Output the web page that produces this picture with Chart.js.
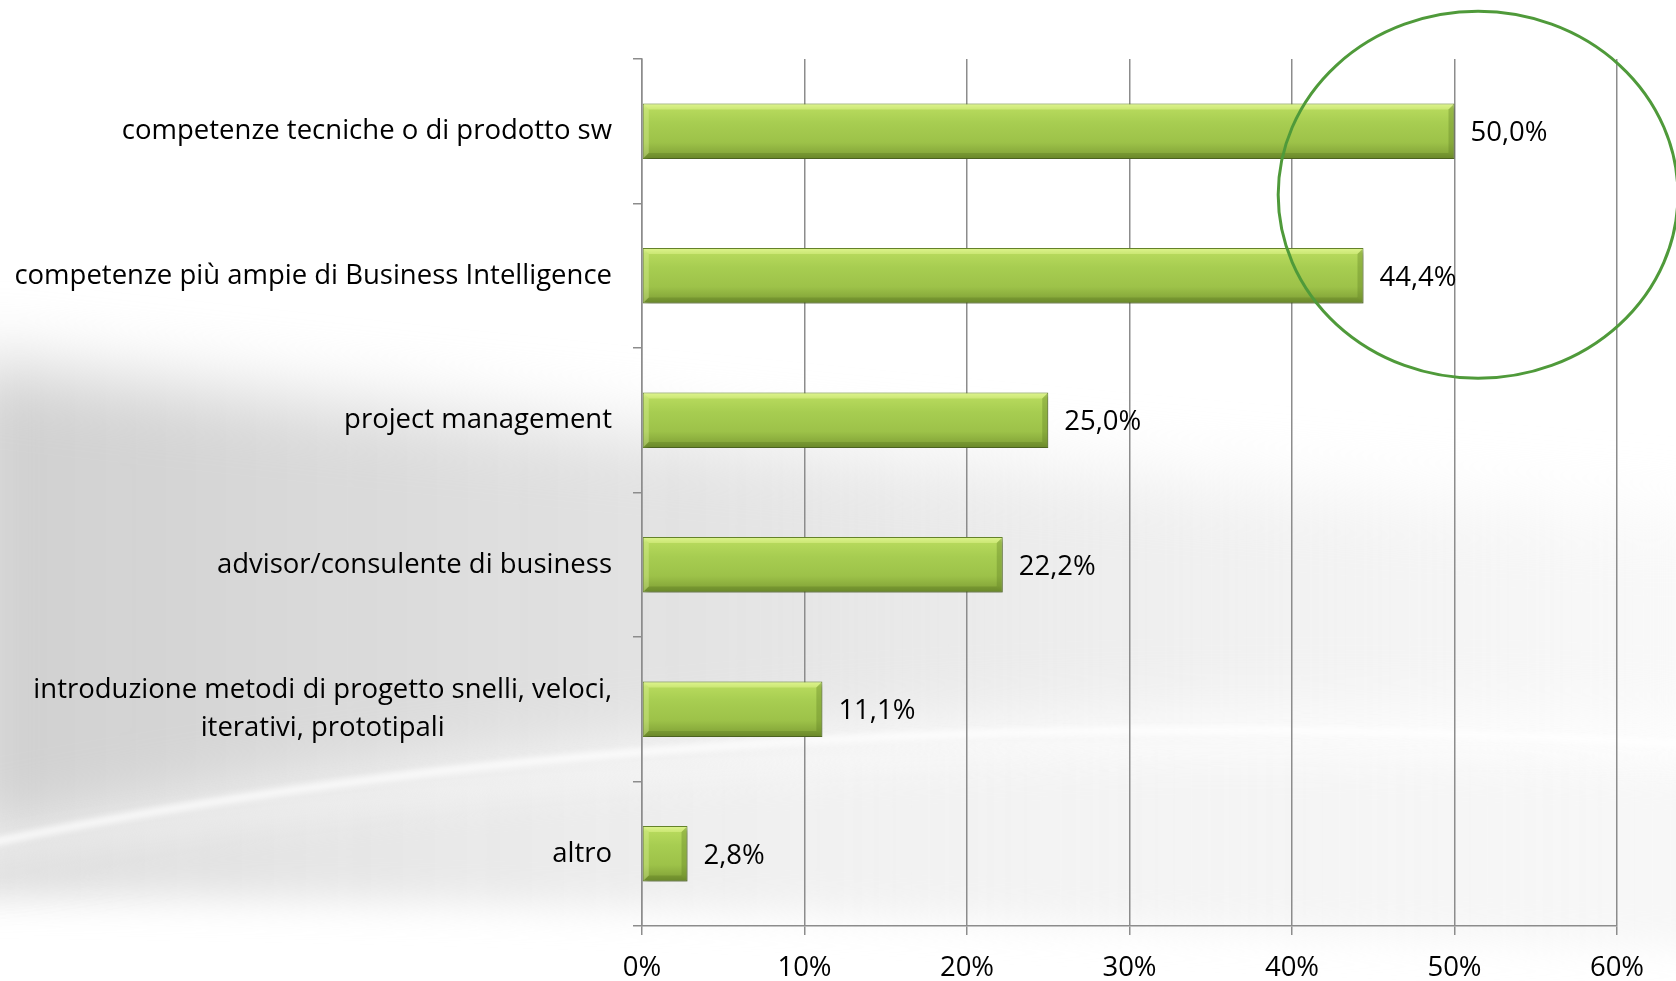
<!DOCTYPE html>
<html>
<head>
<meta charset="utf-8">
<script src="https://cdn.jsdelivr.net/npm/chart.js@4.4.1/dist/chart.umd.min.js"></script>
<style>
    html, body { margin: 0; padding: 0; background: #fff; }
    #wrap { width: 1676px; height: 981px; }
</style>
</head>
<body>
<div id="wrap"><canvas id="myChart" width="1676" height="981"></canvas></div>
<script>
// data
const categories = [
    'competenze tecniche o di prodotto sw',
    'competenze più ampie di Business Intelligence',
    'project management',
    'advisor/consulente di business',
    ['introduzione metodi di progetto snelli, veloci,', 'iterativi, prototipali'],
    'altro'
];
const values = [50.0, 44.4, 25.0, 22.2, 11.1, 2.8];
const xTicks = [0, 10, 20, 30, 40, 50, 60];

// highlighted area (ellipse), in data units: x in %, y in category index
const highlightCenter = [51.45, 0.44];
const highlightRadius = [12.3, 1.27];

const FONT = '"Open Sans", sans-serif';
const FONT_SIZE = 27.5;

function fmt(v) {
    return v.toFixed(1).replace('.', ',') + '%';
}

// soft grey swoosh behind the chart
const backgroundPlugin = {
    id: 'bgSwoosh',
    beforeDraw(chart) {
        const ctx = chart.ctx;
        const w = chart.width, h = chart.height;
        ctx.save();
        ctx.fillStyle = '#ffffff';
        ctx.fillRect(0, 0, w, h);

        ctx.filter = 'blur(35px)';
        let g = ctx.createLinearGradient(0, 0, w, 0);
        g.addColorStop(0, 'rgba(208,208,208,1)');
        g.addColorStop(0.45, 'rgba(226,226,226,0.9)');
        g.addColorStop(1, 'rgba(242,242,242,0.5)');
        ctx.fillStyle = g;
        ctx.beginPath();
        ctx.moveTo(-40, 360);
        ctx.bezierCurveTo(500, 420, 1100, 480, w + 40, 520);
        ctx.lineTo(w + 40, 730);
        ctx.bezierCurveTo(1200, 700, 600, 730, -40, 850);
        ctx.closePath();
        ctx.fill();

        // lower lighter band
        g = ctx.createLinearGradient(0, 0, w, 0);
        g.addColorStop(0, 'rgba(218,218,218,0.9)');
        g.addColorStop(0.5, 'rgba(238,238,238,0.8)');
        g.addColorStop(1, 'rgba(242,242,242,0.6)');
        ctx.filter = 'blur(18px)';
        ctx.fillStyle = g;
        ctx.beginPath();
        ctx.moveTo(-40, 860);
        ctx.bezierCurveTo(600, 750, 1200, 740, w + 40, 770);
        ctx.lineTo(w + 40, 950);
        ctx.bezierCurveTo(1200, 930, 600, 900, -40, 895);
        ctx.closePath();
        ctx.fill();

        // white streak
        ctx.filter = 'blur(3px)';
        ctx.strokeStyle = 'rgba(255,255,255,0.85)';
        ctx.lineWidth = 7;
        ctx.beginPath();
        ctx.moveTo(-20, 845);
        ctx.bezierCurveTo(500, 735, 1100, 710, w + 20, 745);
        ctx.stroke();
        ctx.restore();
    }
};

// drop shadow under the bars
const shadowPlugin = {
    id: 'barShadow',
    beforeDatasetDraw(chart) {
        const ctx = chart.ctx;
        ctx.save();
        ctx.shadowColor = 'rgba(0,0,0,0.35)';
        ctx.shadowBlur = 5;
        ctx.shadowOffsetX = 2;
        ctx.shadowOffsetY = 3;
    },
    afterDatasetDraw(chart) {
        chart.ctx.restore();
    }
};

function quad(ctx, pts, color) {
    ctx.fillStyle = color;
    ctx.beginPath();
    ctx.moveTo(pts[0][0], pts[0][1]);
    for (let k = 1; k < pts.length; k++) ctx.lineTo(pts[k][0], pts[k][1]);
    ctx.closePath();
    ctx.fill();
}

// bevel edges, value labels, category labels, ellipse
const decorPlugin = {
    id: 'decor',
    afterDatasetsDraw(chart) {
        const ctx = chart.ctx;
        const meta = chart.getDatasetMeta(0);
        ctx.save();
        meta.data.forEach((bar, i) => {
            const t = bar.y - bar.height / 2 + 1;
            const bt = bar.y + bar.height / 2 - 1;
            const l = bar.base + 1;
            const r = bar.x - 1;
            const b = 5;
            quad(ctx, [[l, t], [l + b, t + b], [l + b, bt - b], [l, bt]], 'rgba(225,245,160,0.35)');
            quad(ctx, [[l, t], [r, t], [r - b, t + b], [l + b, t + b]], 'rgba(232,250,150,0.45)');
            quad(ctx, [[r, t], [r, bt], [r - b, bt - b], [r - b, t + b]], 'rgba(95,125,35,0.35)');
            quad(ctx, [[l, bt], [r, bt], [r - b, bt - b], [l + b, bt - b]], 'rgba(85,115,30,0.3)');

            // value label
            ctx.fillStyle = '#000';
            ctx.font = FONT_SIZE + 'px ' + FONT;
            ctx.textAlign = 'left';
            ctx.textBaseline = 'middle';
            ctx.fillText(fmt(values[i]), bar.x + 16, bar.y + 2);
        });

        // category labels: block right aligned, lines centered in the block
        const yScale = chart.scales.y;
        const rightEdge = yScale.right - 30;
        const lineH = 38.5;
        ctx.font = FONT_SIZE + 'px ' + FONT;
        ctx.fillStyle = '#000';
        ctx.textBaseline = 'middle';
        ctx.textAlign = 'center';
        categories.forEach((cat, i) => {
            const lines = Array.isArray(cat) ? cat : [cat];
            const maxW = Math.max(...lines.map(s => ctx.measureText(s).width));
            const cy = yScale.getPixelForValue(i);
            const startY = cy - (lines.length - 1) * lineH / 2;
            lines.forEach((s, k) => {
                ctx.fillText(s, rightEdge - maxW / 2, startY + k * lineH);
            });
        });
        ctx.restore();
    },
    afterDraw(chart) {
        const ctx = chart.ctx;
        const xs = chart.scales.x, ys = chart.scales.y;
        const cx = xs.getPixelForValue(highlightCenter[0]);
        const cy = ys.getPixelForValue(highlightCenter[1]);
        const rx = xs.getPixelForValue(highlightCenter[0] + highlightRadius[0]) - cx;
        const ry = ys.getPixelForValue(highlightCenter[1] + highlightRadius[1]) - cy;
        ctx.save();
        ctx.strokeStyle = '#4f9a3a';
        ctx.lineWidth = 3;
        ctx.beginPath();
        ctx.ellipse(cx, cy, rx, ry, 0, 0, Math.PI * 2);
        ctx.stroke();
        ctx.restore();
    }
};

function barGradient(context) {
    const chart = context.chart;
    const ys = chart.scales.y;
    if (!ys || ys.top === undefined) return '#a3c94e';
    const band = (ys.bottom - ys.top) / categories.length;
    const hgt = band * 0.385;
    const cy = ys.getPixelForValue(context.dataIndex);
    const top = cy - hgt / 2;
    const g = chart.ctx.createLinearGradient(0, top, 0, top + hgt);
    g.addColorStop(0, '#d6f088');
    g.addColorStop(0.1, '#b6d95c');
    g.addColorStop(0.35, '#a7cd51');
    g.addColorStop(0.7, '#9dc249');
    g.addColorStop(0.88, '#89ab3c');
    g.addColorStop(1, '#718f2f');
    return g;
}

const ctx = document.getElementById('myChart').getContext('2d');
new Chart(ctx, {
    type: 'bar',
    data: {
        labels: categories,
        datasets: [{
            data: values,
            backgroundColor: barGradient,
            borderColor: '#66852b',
            borderWidth: 1,
            borderSkipped: false,
            categoryPercentage: 1,
            barPercentage: 0.385
        }]
    },
    options: {
        indexAxis: 'y',
        responsive: false,
        animation: false,
        layout: { padding: { top: 59, right: 59, left: 0, bottom: 0 } },
        plugins: {
            legend: { display: false },
            tooltip: { enabled: false }
        },
        scales: {
            x: {
                min: 0,
                max: 60,
                afterBuildTicks: function(scale) {
                    scale.ticks = xTicks.map(v => ({ value: v }));
                },
                ticks: {
                    callback: v => v + '%',
                    color: '#000',
                    font: { family: FONT, size: FONT_SIZE },
                    padding: 17,
                    maxRotation: 0
                },
                grid: { color: '#8c8c8c', lineWidth: 1.5, tickLength: 9 },
                border: { color: '#8c8c8c', width: 1.5 },
                afterFit: function(scale) { scale.height = 55; }
            },
            y: {
                offset: true,
                ticks: { color: 'transparent', font: { family: FONT, size: 12 } },
                grid: { offset: true, drawOnChartArea: false, tickLength: 9, color: '#8c8c8c', lineWidth: 1.5 },
                border: { color: '#8c8c8c', width: 1.5 },
                afterFit: function(scale) { scale.width = 642; }
            }
        }
    },
    plugins: [backgroundPlugin, shadowPlugin, decorPlugin]
});
</script>
</body>
</html>
